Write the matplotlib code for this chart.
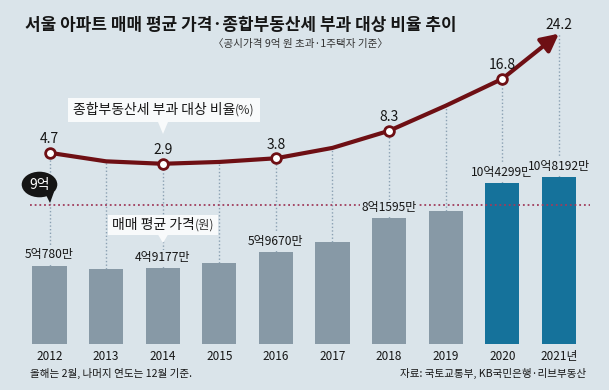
import matplotlib
matplotlib.use('Agg')
import matplotlib.pyplot as plt
from matplotlib.patches import Rectangle, Polygon, Ellipse

plt.rcParams['font.family'] = ['Noto Sans CJK KR', 'DejaVu Sans']

# ---------------- data ----------------
years = [2012, 2013, 2014, 2015, 2016, 2017, 2018, 2019, 2020, 2021]
year_labels = ['2012', '2013', '2014', '2015', '2016', '2017', '2018', '2019', '2020', '2021년']
# average Seoul apartment price, 억 원
price = [5.078, 4.83, 4.9177, 5.26, 5.967, 6.62, 8.1595, 8.6, 10.4299, 10.8192]
price_label_years = [2012, 2014, 2016, 2018, 2020, 2021]
price_label_text = ['5억780만', '4억9177만', '5억9670만', '8억1595만', '10억4299만', '10억8192만']
# share of apartments subject to 종부세 (%)
ratio = [4.7, 3.3, 2.9, 3.2, 3.8, 5.5, 8.3, 12.4, 16.8, 24.2]
ratio_label_years = [2012, 2014, 2016, 2018, 2020, 2021]
threshold = 9  # 9억

title = '서울 아파트 매매 평균 가격·종합부동산세 부과 대상 비율 추이'
subtitle = '〈공시가격 9억 원 초과·1주택자 기준〉'
note = '올해는 2월, 나머지 연도는 12월 기준.'
source = '자료: 국토교통부, KB국민은행·리브부동산'

# ---------------- style ----------------
BG = '#dae4ea'
GRAY = '#8799a6'
BLUE = '#15729b'
LINE = '#6e0f14'
RED_DOT = '#a03c5c'
VDOT = '#8aa0b2'
TXT = '#161616'

W, H = 609, 390
fig = plt.figure(figsize=(W / 100, H / 100), dpi=100, facecolor=BG)

def fx(x):
    return x / W

def fy(y):
    return 1 - y / H

base_px = 344
x_left = 2012 - 49.5 / 56.6
x_right = 2012 + (W - 49.5) / 56.6
pos = [0, (H - base_px) / H, 1, base_px / H]

ax = fig.add_axes(pos)
ax.set_facecolor('none')
ax.set_xlim(x_left, x_right)
ax.set_ylim(0, base_px / 15.45)
for s in ax.spines.values():
    s.set_visible(False)
ax.set_yticks([])
ax.set_xticks(years)
ax.set_xticklabels(year_labels, fontsize=8.5, color=TXT)
ax.tick_params(axis='x', length=0, pad=4)

ax2 = fig.add_axes(pos, sharex=ax)
ax2.set_ylim(-162.5 / 6.11, (base_px - 162.5) / 6.11)
ax2.axis('off')
ax2.patch.set_visible(False)
ax2.set_zorder(0.5)

# bars
colors = [BLUE if y >= 2020 else GRAY for y in years]
ax.bar(years, price, width=0.606, color=colors, zorder=2)

# 9억 threshold line
ax.axhline(threshold, xmin=30 / W, xmax=590 / W, color=RED_DOT, lw=1.3,
           linestyle=(0, (1.0, 1.6)), zorder=3)

# vertical dotted connectors from line to bar tops
fig.canvas.draw()
for yr, p, r in zip(years, price, ratio):
    disp = ax2.transData.transform((yr, r))
    top = ax.transData.inverted().transform(disp)[1]
    ax.plot([yr, yr], [p, top], color=VDOT, lw=1.0, linestyle=(0, (1.0, 1.6)), zorder=1)

# price labels
for yr, txt in zip(price_label_years, price_label_text):
    p = price[years.index(yr)]
    ax.annotate(txt, (yr, p), xytext=(0, 5.2), textcoords='offset points',
                ha='center', va='baseline', fontsize=8.7, color=TXT, zorder=6,
                bbox=dict(boxstyle='square,pad=0.1', fc=BG, ec='none'))

# ratio line
ax2.plot(years[:-1], ratio[:-1], color=LINE, lw=3, solid_joinstyle='round',
         solid_capstyle='round', zorder=3)
ax2.annotate('', xy=(years[-1], ratio[-1]), xytext=(years[-2], ratio[-2]),
             arrowprops=dict(arrowstyle='-|>,head_length=0.75,head_width=0.38',
                             color=LINE, lw=3, shrinkA=0, shrinkB=0,
                             mutation_scale=14), zorder=3)
mk_years = ratio_label_years[:-1]
mk_vals = [ratio[years.index(y)] for y in mk_years]
ax2.plot(mk_years, mk_vals, 'o', ms=7, mfc='white', mec=LINE, mew=2, zorder=4)
for yr in ratio_label_years:
    v = ratio[years.index(yr)]
    off = 3.6 if yr == 2021 else 6.8
    ax2.annotate(f'{v}', (yr, v), xytext=(0, off), textcoords='offset points',
                 ha='center', va='baseline', fontsize=10, color=TXT, zorder=5)

# 9억 bubble
fig.add_artist(Polygon([(fx(45), fy(193)), (fx(54), fy(192)), (fx(50), fy(203))],
                       closed=True, transform=fig.transFigure, fc='#151515', ec='none', zorder=3))
fig.add_artist(Ellipse((fx(39.5), fy(184.5)), 35.6 / W, 25.6 / H,
                       transform=fig.transFigure, fc='#151515', ec='none', zorder=3))
fig.text(fx(39.5), fy(184.5), '9억', color='white', fontsize=10, ha='center',
         va='center', zorder=4)

# label boxes
def label_box(x0, y0, w, h, tip_x, tip_y, tx, main, unit):
    fig.add_artist(Rectangle((fx(x0), fy(y0 + h)), w / W, h / H, transform=fig.transFigure,
                             fc='#f8fafb', ec='none', zorder=3))
    fig.add_artist(Polygon([(fx(tip_x - 5), fy(y0 + h)), (fx(tip_x + 5), fy(y0 + h)),
                            (fx(tip_x), fy(tip_y))], closed=True,
                           transform=fig.transFigure, fc='#f8fafb', ec='none', zorder=3))
    t = fig.text(fx(tx), fy(y0 + h / 2), main, fontsize=10, fontweight='medium',
                 color=TXT, ha='left', va='center', zorder=4)
    a = plt.annotate(unit, xy=(1, 0.5), xycoords=t, ha='left', va='center',
                     fontsize=8.8, color='#333333', annotation_clip=False)
    a.set_zorder(4)
    a.remove()
    fig.add_artist(a)

label_box(68, 98, 192, 24, 163, 134, 73, '종합부동산세 부과 대상 비율', '(%)')
label_box(108, 215, 110, 19.5, 163, 243, 112, '매매 평균 가격', '(원)')

# titles and notes
fig.text(fx(25), fy(25), title, fontsize=12.2, fontweight='bold', color=TXT,
         ha='left', va='center')
fig.text(fx(300), fy(44), subtitle, fontsize=7.6, color='#333333',
         ha='center', va='center')
fig.text(fx(30), fy(373), note, fontsize=7.6, color=TXT, ha='left', va='center')
fig.text(fx(586), fy(373), source, fontsize=7.6, color=TXT, ha='right', va='center')

fig.savefig('out.png', dpi=100, facecolor=BG)
